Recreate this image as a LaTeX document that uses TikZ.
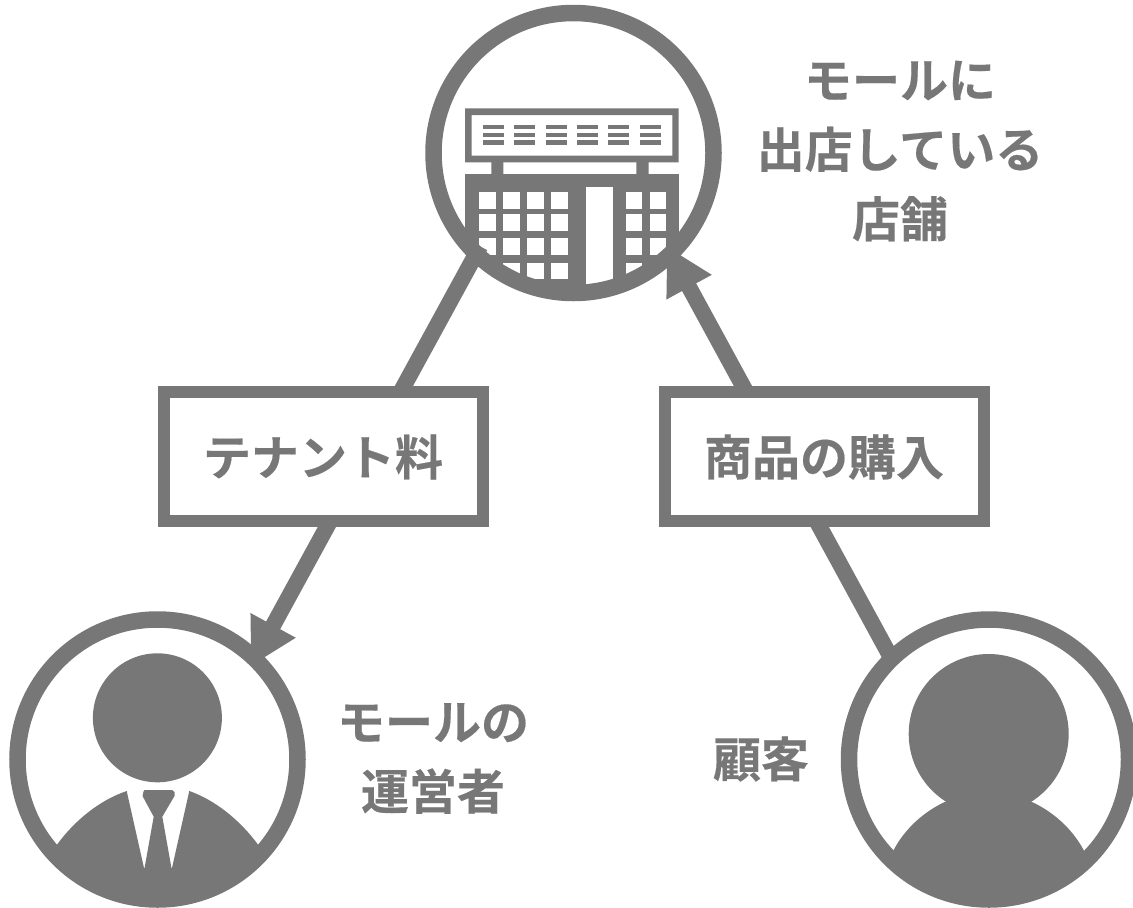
\documentclass[tikz,border=0pt]{standalone}
\usepackage{fontspec}
\newfontfamily\jpfont[FakeBold=0.35]{Noto Sans CJK JP Bold}
\usetikzlibrary{arrows.meta}
\definecolor{ink}{HTML}{777777}
\tikzset{
  hub/.style={circle,inner sep=0pt,outer sep=0pt,minimum size=264pt},
  ringline/.style={draw=ink,line width=16.5pt},
  link/.style={draw=ink,line width=16pt},
  linkarrow/.style={link,-{Triangle[length=46.5pt,width=48pt,fill=ink]}},
  labelbox/.style={draw=ink,line width=12pt,fill=white,minimum width=319pt,minimum height=129pt,inner sep=0pt,outer sep=0pt},
  caption/.style={text=ink,align=center,inner sep=0pt,font=\jpfont\fontsize{48}{69.5}\selectfont}
}
\begin{document}
\begin{tikzpicture}[x=1pt,y=-1pt]
\useasboundingbox (0,0) rectangle (1133,908);
\node[hub] (shop) at (573.5,153) {};
\node[hub] (owner) at (157.5,759.5) {};
\node[hub] (cust) at (989,759.5) {};
% building
\begin{scope}
\clip (573.5,153) circle (134);
\fill[ink,even odd rule] (465,108.3) rectangle (678.7,162.3) (471.7,115) rectangle (672.3,155.7);
\foreach \x in {483,514.3,545.7,577,608.3,639.5}{
  \foreach \y/\h in {124.7/129.3,132.7/137.3,140.3/145.3}{
    \fill[ink] (\x,\y) rectangle (\x+21,\h);
  }
}
\fill[ink] (491.3,162) rectangle (503.3,175) (636.3,162) rectangle (648.7,175);
\fill[ink] (465,174) rectangle (678.7,300);
\fill[white] (585.7,187.3) rectangle (613.3,300);
\foreach \x in {479,503,527,551,625.7,649.7}{
  \foreach \y in {192,214,238.3,262.7}{
    \fill[white] (\x,\y) rectangle (\x+16.7,\y+16.7);
  }
}
\end{scope}
% owner
\begin{scope}
\clip (157.5,759.5) circle (134);
\fill[ink] (157.4,717.8) circle (64.5);
\fill[ink] (40,870) -- (56.7,845) .. controls (75,820) and (100,800) .. (126.7,791)
  -- (144.3,869.3) -- (153.7,816.7) -- (142.5,796) -- (143.5,791.5) -- (144.5,790) -- (172,790) -- (174.5,792) -- (174.5,796) -- (162.3,816.7)
  -- (171.7,869.3) -- (189.3,791) .. controls (215,800) and (240,820) .. (258.3,845) -- (275,870) -- (275,910) -- (40,910) -- cycle;
\end{scope}
% customer
\begin{scope}
\clip (989,759.5) circle (134);
\fill[ink] (988.7,734) circle (80);
\fill[ink] (880,875) -- (893.3,850.7) .. controls (905,828) and (925,811) .. (945.3,801.7) -- (1031.3,801.7)
  .. controls (1052,811) and (1072,828) .. (1084,850.7) -- (1097,875) -- (1097,910) -- (880,910) -- cycle;
\end{scope}
% connectors
\draw[linkarrow] (shop.225) -- (owner.45);
\draw[linkarrow,shorten <=6pt] (cust.135) -- (shop.-45);
% rings
\draw[ringline] (shop.center) circle (140);
\draw[ringline] (owner.center) circle (140);
\draw[ringline] (cust.center) circle (140);
% boxes
\node[labelbox] (fee) at (323,456.5) {};
\node[labelbox] (buy) at (824,456.5) {};
\node[caption] (feetext) at (323,457) {テナント料};
\node[caption] (buytext) at (824,457) {商品の購入};
\node[caption] (shoptext) at (900,151) {モールに\\出店している\\店舗};
\node[caption] (ownertext) at (433,758.5) {モールの\\運営者};
\node[caption] (custtext) at (761,759) {顧客};
\end{tikzpicture}
\end{document}
